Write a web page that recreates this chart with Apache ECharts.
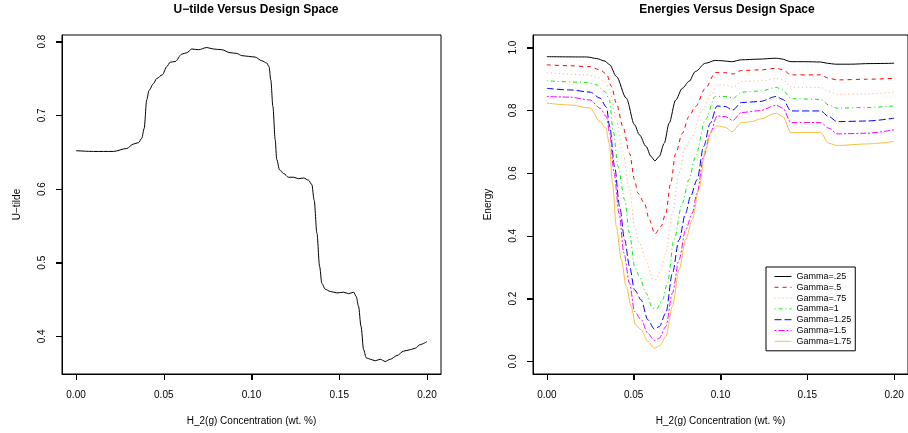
<!DOCTYPE html>
<html>
<head>
<meta charset="utf-8">
<script src="https://cdn.jsdelivr.net/npm/echarts@6/dist/echarts.min.js"></script>
<style>html,body{margin:0;padding:0;background:#fff}#c{width:908px;height:433px}</style>
</head>
<body>
<div id="c"></div>
<script>
// ---------- data ----------
var xTicks = [0, 0.05, 0.10, 0.15, 0.20];
var uTicks = [0.4, 0.5, 0.6, 0.7, 0.8];
var eTicks = [0, 0.2, 0.4, 0.6, 0.8, 1.0];

var uTildeX = [0,0.0099,0.0213,0.0289,0.0327,0.0356,0.0375,0.0388,0.0403,0.0416,0.0441,0.046,0.0492,0.0517,0.0536,0.0565,0.0603,0.0631,0.066,0.0698,0.0745,0.0783,0.0831,0.0878,0.0916,0.0945,0.0983,0.1021,0.1059,0.1087,0.110,0.111,0.1122,0.1135,0.1144,0.116,0.1183,0.1211,0.124,0.1268,0.1297,0.1325,0.1344,0.1357,0.1373,0.1388,0.1401,0.142,0.1449,0.1487,0.1525,0.1553,0.1582,0.1597,0.161,0.1624,0.1639,0.1654,0.1677,0.1705,0.1734,0.1762,0.1791,0.1829,0.1867,0.1905,0.1933,0.1962,0.2];
var uTildeY = [0.652,0.651,0.651,0.655,0.661,0.663,0.669,0.682,0.721,0.734,0.743,0.750,0.755,0.766,0.772,0.773,0.783,0.785,0.790,0.789,0.792,0.790,0.789,0.785,0.784,0.781,0.780,0.779,0.774,0.771,0.766,0.748,0.712,0.667,0.640,0.626,0.621,0.616,0.616,0.614,0.615,0.612,0.606,0.585,0.540,0.495,0.472,0.464,0.461,0.459,0.460,0.458,0.460,0.454,0.441,0.414,0.382,0.371,0.369,0.367,0.369,0.366,0.369,0.374,0.380,0.382,0.384,0.389,0.393];

var g025X = [0,0.023,0.0287,0.0334,0.0362,0.040,0.0457,0.0505,0.0533,0.0571,0.060,0.0622,0.0647,0.0676,0.0704,0.0742,0.078,0.0818,0.0856,0.0913,0.097,0.1008,0.1064,0.1121,0.1216,0.1321,0.1349,0.1406,0.1482,0.1577,0.1615,0.1662,0.1748,0.1862,0.2];
var g025Y = [0.971,0.970,0.965,0.957,0.945,0.908,0.839,0.754,0.722,0.685,0.653,0.639,0.653,0.695,0.759,0.833,0.870,0.892,0.924,0.950,0.959,0.958,0.955,0.961,0.963,0.966,0.964,0.955,0.955,0.954,0.950,0.947,0.947,0.949,0.950];

var g05X = [0,0.0135,0.0249,0.0306,0.0343,0.0372,0.040,0.0438,0.0476,0.0505,0.0524,0.0562,0.059,0.0622,0.0657,0.0685,0.0713,0.0742,0.078,0.0818,0.0856,0.0913,0.097,0.1027,0.1074,0.1121,0.1235,0.1321,0.1359,0.1406,0.1577,0.1624,0.1672,0.1842,0.2];
var g05Y = [0.945,0.942,0.939,0.929,0.916,0.876,0.823,0.748,0.663,0.579,0.536,0.504,0.451,0.406,0.430,0.472,0.568,0.663,0.727,0.780,0.812,0.870,0.920,0.920,0.916,0.927,0.929,0.934,0.929,0.913,0.913,0.902,0.897,0.899,0.902];

var g075X = [0,0.023,0.0287,0.0334,0.0362,0.040,0.0438,0.0476,0.0505,0.0533,0.0571,0.0609,0.0628,0.0657,0.0685,0.0723,0.0761,0.0799,0.0837,0.0894,0.0951,0.098,0.1027,0.1074,0.1121,0.1235,0.1321,0.1359,0.1406,0.1577,0.1624,0.1672,0.1842,0.2];
var g075Y = [0.920,0.913,0.906,0.892,0.865,0.770,0.663,0.547,0.430,0.377,0.324,0.262,0.260,0.292,0.345,0.472,0.600,0.685,0.717,0.801,0.855,0.881,0.881,0.874,0.892,0.894,0.902,0.897,0.874,0.873,0.860,0.851,0.852,0.858];

var g1X = [0,0.023,0.0287,0.0334,0.036,0.0381,0.041,0.0448,0.0476,0.0505,0.0533,0.0571,0.0609,0.0632,0.0666,0.0694,0.0732,0.078,0.0818,0.0856,0.0913,0.097,0.1027,0.1074,0.1121,0.1235,0.1321,0.1359,0.1406,0.1577,0.1624,0.1672,0.1842,0.2];
var g1Y = [0.894,0.889,0.881,0.860,0.833,0.738,0.621,0.515,0.409,0.303,0.271,0.218,0.170,0.167,0.196,0.249,0.387,0.504,0.579,0.653,0.770,0.844,0.844,0.839,0.858,0.862,0.873,0.865,0.837,0.835,0.817,0.807,0.809,0.814];

var g125X = [0,0.0135,0.0249,0.0306,0.0343,0.0362,0.039,0.0419,0.0448,0.0476,0.0505,0.0543,0.0581,0.0619,0.0647,0.0685,0.0723,0.0761,0.0799,0.0827,0.0865,0.0903,0.0941,0.098,0.1027,0.107,0.1121,0.1226,0.1321,0.1359,0.1406,0.1577,0.1624,0.1672,0.1842,0.2];
var g125Y = [0.870,0.865,0.858,0.839,0.810,0.748,0.621,0.494,0.387,0.303,0.228,0.196,0.133,0.103,0.111,0.154,0.281,0.387,0.472,0.525,0.579,0.685,0.759,0.814,0.812,0.801,0.825,0.828,0.844,0.835,0.798,0.798,0.780,0.764,0.766,0.775];

var g15X = [0,0.0135,0.0249,0.0306,0.0343,0.0362,0.0387,0.0416,0.0444,0.0476,0.0505,0.0543,0.0581,0.0619,0.0647,0.0685,0.0723,0.0761,0.0799,0.0837,0.0865,0.0903,0.0941,0.098,0.1027,0.107,0.1121,0.1226,0.1321,0.1359,0.1406,0.1577,0.1624,0.1672,0.1842,0.2];
var g15Y = [0.844,0.842,0.833,0.807,0.780,0.727,0.600,0.472,0.345,0.249,0.159,0.133,0.090,0.067,0.074,0.111,0.218,0.324,0.419,0.472,0.536,0.653,0.727,0.782,0.780,0.768,0.793,0.799,0.816,0.807,0.761,0.761,0.743,0.725,0.727,0.738];

var g175X = [0,0.0135,0.0249,0.0306,0.034,0.0359,0.0378,0.040,0.0429,0.0457,0.0486,0.051,0.0543,0.0581,0.0619,0.0651,0.0685,0.0723,0.0761,0.0799,0.0837,0.0875,0.0913,0.0951,0.098,0.1027,0.1066,0.1121,0.1178,0.1226,0.1321,0.1359,0.1406,0.1577,0.1624,0.1672,0.1842,0.2];
var g175Y = [0.823,0.817,0.807,0.764,0.743,0.695,0.568,0.430,0.324,0.239,0.175,0.117,0.101,0.064,0.042,0.050,0.080,0.175,0.292,0.387,0.451,0.547,0.674,0.738,0.751,0.746,0.732,0.761,0.764,0.772,0.791,0.780,0.729,0.729,0.695,0.688,0.693,0.701];

var gammaNames = ['Gamma=.25','Gamma=.5','Gamma=.75','Gamma=1','Gamma=1.25','Gamma=1.5','Gamma=1.75'];
var gammaX = [g025X, g05X, g075X, g1X, g125X, g15X, g175X];
var gammaY = [g025Y, g05Y, g075Y, g1Y, g125Y, g15Y, g175Y];

// ---------- styles ----------
var gammaColors = ['#000000','#FF0000','#FFAA70','#00EE00','#0000FF','#FF00FF','#F7C040'];
var gammaDash = ['solid',[4,4],[1,3],[1,3,4,3],[7,3],[2,2,6,2],'solid'];
var TICK_LEN = 6;

function zip(xs, ys){ return xs.map(function(x,i){ return [x, ys[i]]; }); }

var FONT = 'Liberation Sans, Arial, Helvetica, sans-serif';
var X_RANGE = [-0.008, 0.208];
var U_RANGE = [0.349, 0.809];
var E_RANGE = [-0.04, 1.04];

function xAxisOf(gi){
  return {
    type:'value', gridIndex:gi, min:X_RANGE[0], max:X_RANGE[1],
    splitLine:{show:false}, axisLine:{show:true, onZero:false, lineStyle:{color:'#000', width:1}},
    axisTick:{show:true, length:TICK_LEN, lineStyle:{color:'#000', width:1}, customValues:xTicks},
    axisLabel:{color:'#000', fontSize:10, fontFamily:FONT, margin:16, customValues:xTicks,
      formatter:function(v){ return v.toFixed(2); }},
    name:'H_2(g) Concentration (wt. %)', nameLocation:'middle', nameGap:42,
    nameTextStyle:{color:'#000', fontSize:10, fontFamily:FONT}
  };
}
function yAxisOf(gi, rng, ticks, name){
  return {
    type:'value', gridIndex:gi, min:rng[0], max:rng[1],
    splitLine:{show:false}, axisLine:{show:true, onZero:false, lineStyle:{color:'#000', width:1}},
    axisTick:{show:true, length:TICK_LEN, lineStyle:{color:'#000', width:1}, customValues:ticks},
    axisLabel:{color:'#000', fontSize:10, fontFamily:FONT, margin:15, rotate:90, customValues:ticks,
      formatter:function(v){ return v.toFixed(1); }},
    name:name, nameLocation:'middle', nameGap:40, nameRotate:90,
    nameTextStyle:{color:'#000', fontSize:10, fontFamily:FONT}
  };
}

var series = [{
  type:'line', xAxisIndex:0, yAxisIndex:0, data:zip(uTildeX, uTildeY),
  showSymbol:false, symbol:'none', smooth:0.3, smoothMonotone:'x',
  lineStyle:{color:'#000', width:1}, silent:true
}];
for (var i=0;i<gammaNames.length;i++){
  series.push({
    type:'line', name:gammaNames[i], xAxisIndex:1, yAxisIndex:1, data:zip(gammaX[i], gammaY[i]),
    showSymbol:false, symbol:'none', smooth:0.3, smoothMonotone:'x',
    itemStyle:{color:gammaColors[i]},
    lineStyle:{color:gammaColors[i], width:1, type:gammaDash[i]}, silent:true
  });
}

var chart = echarts.init(document.getElementById('c'), null, {renderer:'canvas'});
chart.setOption({
  animation:false,
  backgroundColor:'#fff',
  title:[
    {text:'U\u2212tilde Versus Design Space', left:251, top:-1, textAlign:'center',
     textStyle:{fontSize:12, fontWeight:'bold', color:'#000', fontFamily:FONT}},
    {text:'Energies Versus Design Space', left:722, top:-1, textAlign:'center',
     textStyle:{fontSize:12, fontWeight:'bold', color:'#000', fontFamily:FONT}}
  ],
  grid:[
    {left:62, top:35, width:379, height:339, show:true, borderColor:'#000', borderWidth:1},
    {left:533, top:35, width:379, height:339, show:true, borderColor:'#000', borderWidth:1}
  ],
  xAxis:[xAxisOf(0), xAxisOf(1)],
  yAxis:[yAxisOf(0, U_RANGE, uTicks, 'U\u2212tilde'), yAxisOf(1, E_RANGE, eTicks, 'Energy')],
  legend:{
    show:true, type:'plain',
    orient:'vertical', left:766, top:267,
    data:gammaNames,
    itemWidth:17, itemHeight:8, itemGap:1.8,
    itemStyle:{opacity:0},
    lineStyle:{width:1},
    borderColor:'#000', borderWidth:1, padding:[5,4,5,8],
    backgroundColor:'#fff',
    textStyle:{fontSize:9, color:'#000', fontFamily:FONT},
    selectedMode:false
  },
  series:series
});

// Tick marks placed through the chart's own scales (convertToPixel), drawn as graphic lines.
function tickGraphics(){
  var els = [];
  [[0, U_RANGE, uTicks], [1, E_RANGE, eTicks]].forEach(function(cfg){
    var gi = cfg[0], yr = cfg[1], yt = cfg[2];
    xTicks.forEach(function(v){
      var p = chart.convertToPixel({xAxisIndex:gi, yAxisIndex:gi}, [v, yr[0]]);
      var x = Math.round(p[0]) + 0.5, y = Math.round(p[1]);
      els.push({type:'line', z:100, silent:true,
        shape:{x1:x, y1:y, x2:x, y2:y + TICK_LEN}, style:{stroke:'#000', lineWidth:1}});
    });
    yt.forEach(function(v){
      var p = chart.convertToPixel({xAxisIndex:gi, yAxisIndex:gi}, [X_RANGE[0], v]);
      var x = Math.round(p[0]), y = Math.round(p[1]) + 0.5;
      els.push({type:'line', z:100, silent:true,
        shape:{x1:x - TICK_LEN, y1:y, x2:x, y2:y}, style:{stroke:'#000', lineWidth:1}});
    });
  });
  return els;
}
chart.setOption({graphic:{elements:tickGraphics()}});
</script>
</body>
</html>
